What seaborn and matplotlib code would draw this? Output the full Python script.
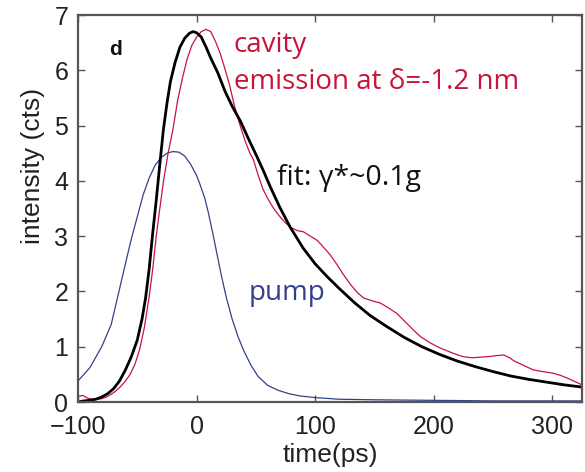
import matplotlib
matplotlib.use("Agg")
import matplotlib.pyplot as plt
import seaborn as sns
import pandas as pd

# time axis (ps) and intensity (cts) for each trace
fit_t = [-100, -95, -90, -85, -80, -75, -70, -65, -60, -55, -50, -46, -43, -40, -37,
         -34, -31, -28, -25, -22, -18, -14, -10, -6, -3, 0, 4, 8, 12, 18, 24, 30, 37,
         44, 50, 56, 62, 70, 79, 90, 100, 110, 120, 133, 146, 160, 175, 190, 205,
         220, 235, 250, 265, 280, 295, 310, 325]
fit_y = [0.0, 0.02, 0.03, 0.05, 0.09, 0.15, 0.24, 0.38, 0.58, 0.82, 1.12, 1.5, 1.88,
         2.4, 3.05, 3.65, 4.3, 4.92, 5.4, 5.8, 6.15, 6.42, 6.58, 6.67, 6.7, 6.68, 6.6,
         6.42, 6.22, 5.95, 5.62, 5.35, 5.08, 4.75, 4.48, 4.2, 3.9, 3.53, 3.16, 2.78,
         2.5, 2.27, 2.06, 1.8, 1.57, 1.37, 1.17, 1.0, 0.86, 0.74, 0.64, 0.55, 0.47,
         0.41, 0.36, 0.31, 0.27]

cav_t = [-100, -96, -92, -88, -84, -80, -76, -72, -68, -64, -60, -56, -52, -48, -44,
         -40, -37, -34, -31, -28, -24, -20, -16, -12, -8, -4, 0, 4, 8, 12, 16, 20, 24,
         28, 32, 36, 41, 45, 48, 52, 56, 60, 65, 70, 75, 80, 85, 90, 96, 102, 107,
         112, 118, 124, 130, 136, 141, 148, 155, 162, 169, 176, 183, 189, 197, 205,
         212, 219, 225, 232, 239, 246, 253, 259, 264, 268, 276, 284, 292, 301, 307,
         313, 319, 325]
cav_y = [0.1, 0.12, 0.07, 0.05, 0.05, 0.06, 0.09, 0.14, 0.2, 0.28, 0.38, 0.5, 0.68,
         0.95, 1.35, 1.9, 2.4, 3.0, 3.5, 3.98, 4.5, 4.92, 5.45, 5.85, 6.2, 6.45, 6.6,
         6.7, 6.74, 6.7, 6.52, 6.3, 6.02, 5.72, 5.35, 5.05, 4.72, 4.5, 4.38, 4.1, 3.85,
         3.68, 3.5, 3.36, 3.24, 3.15, 3.1, 3.08, 3.0, 2.92, 2.8, 2.68, 2.5, 2.3, 2.12,
         1.97, 1.88, 1.83, 1.79, 1.7, 1.6, 1.45, 1.3, 1.18, 1.07, 0.98, 0.92, 0.86,
         0.82, 0.8, 0.81, 0.82, 0.84, 0.85, 0.8, 0.74, 0.66, 0.58, 0.55, 0.52, 0.48,
         0.43, 0.37, 0.31]

pump_t = [-100, -90, -80, -72, -66, -60, -55, -50, -45, -40, -35, -30, -25, -20, -15,
          -10, -5, 0, 3, 7, 10, 14, 17, 21, 25, 30, 35, 40, 46, 52, 60, 69, 78, 87,
          100, 120, 150, 200, 250, 325]
pump_y = [0.38, 0.62, 1.0, 1.4, 1.95, 2.5, 2.95, 3.35, 3.75, 4.05, 4.28, 4.42, 4.5,
          4.53, 4.52, 4.45, 4.3, 4.1, 3.93, 3.68, 3.42, 3.02, 2.7, 2.28, 1.9, 1.5,
          1.18, 0.92, 0.66, 0.46, 0.3, 0.21, 0.15, 0.11, 0.08, 0.05, 0.04, 0.03, 0.02,
          0.02]

x_ticks = [-100, 0, 100, 200, 300]
x_tick_labels = ["\u2212100", "0", "100", "200", "300"]
y_ticks = [0, 1, 2, 3, 4, 5, 6, 7]

RED = "#c8143c"
BLUE = "#34418a"

sns.set_theme(style="white")
plt.rcParams["font.family"] = ["Liberation Sans", "DejaVu Sans"]

fig = plt.figure(figsize=(5.85, 4.72), dpi=100)
ax = fig.add_axes([0.1333, 0.1483, 0.8615, 0.8199])

pump = pd.DataFrame({"t": pump_t, "y": pump_y})
cav = pd.DataFrame({"t": cav_t, "y": cav_y})
fit = pd.DataFrame({"t": fit_t, "y": fit_y})

sns.lineplot(data=pump, x="t", y="y", ax=ax, color=BLUE, lw=0.9)
sns.lineplot(data=cav, x="t", y="y", ax=ax, color=RED, lw=0.9)
sns.lineplot(data=fit, x="t", y="y", ax=ax, color="black", lw=2.0)

ax.set_xlim(-100, 325)
ax.set_ylim(0, 7)
ax.set_xticks(x_ticks)
ax.set_yticks(y_ticks)
ax.set_xticklabels(x_tick_labels)
ax.tick_params(direction="in", length=5, width=1, colors="#555555",
               labelcolor="#222222", labelsize=18, top=True, right=True,
               bottom=True, left=True)
ax.tick_params(axis="x", pad=9)
ax.tick_params(axis="y", pad=7)
for s in ax.spines.values():
    s.set_color("#555555")
    s.set_linewidth(1.6)

ax.set_xlabel("time(ps)", fontsize=19, color="#222222", labelpad=3)
ax.set_ylabel("intensity (cts)", fontsize=19, color="#222222")
ax.yaxis.set_label_coords(-0.066, 0.61)

ann_font = ["Open Sans", "DejaVu Sans"]
ax.text(-68, 6.37, "d", fontsize=15, fontweight="bold", va="center",
        ha="center", color="#111111")
ax.text(31.5, 6.46, "cavity", fontsize=20, color=RED, va="center", ha="left",
        family=ann_font)
ax.text(31.5, 5.79, "emission at \u03b4=-1.2 nm", fontsize=20, color=RED,
        va="center", ha="left", family=ann_font)
ax.text(68, 4.05, "fit: \u03b3*~0.1g", fontsize=20.5, color="#111111",
        va="center", ha="left", family=ann_font)
ax.text(43.5, 1.97, "pump", fontsize=20, color=BLUE, va="center", ha="left",
        family=ann_font)

fig.savefig("out.png", dpi=100)
